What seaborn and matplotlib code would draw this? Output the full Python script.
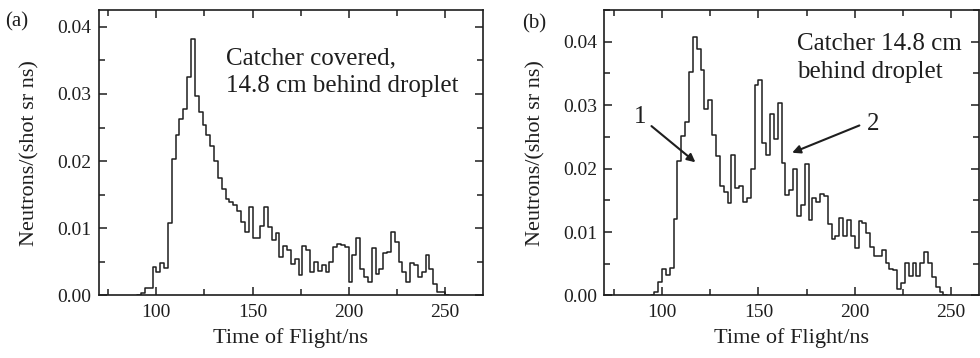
import numpy as np
import pandas as pd
import matplotlib
matplotlib.use("Agg")
import matplotlib.pyplot as plt
from matplotlib.ticker import MultipleLocator, FormatStrFormatter
import seaborn as sns

# neutron time-of-flight spectra, 2 ns bins
bin_width = 2
start_a = 90   # left edge of first bin, panel (a)
flux_a = [0, 0.00035, 0.0011, 0.0011, 0.0043, 0.0035, 0.0048, 0.0041, 0.0108, 0.0203,
          0.0239, 0.0263, 0.0278, 0.0325, 0.0382, 0.0297, 0.0273, 0.0254, 0.0239, 0.0223,
          0.0200, 0.0175, 0.0158, 0.0143, 0.0139, 0.0134, 0.0126, 0.0109, 0.0094, 0.0131,
          0.0086, 0.0086, 0.0103, 0.0131, 0.0102, 0.0083, 0.0093, 0.0057, 0.0073, 0.0067,
          0.0047, 0.0055, 0.0030, 0.0074, 0.0067, 0.0035, 0.0050, 0.0037, 0.0045, 0.0035,
          0.0050, 0.0072, 0.0077, 0.0075, 0.0072, 0.0020, 0.0060, 0.0086, 0.0040, 0.0027,
          0.0020, 0.0070, 0.0032, 0.0040, 0.0063, 0.0064, 0.0094, 0.0080, 0.0050, 0.0035,
          0.0020, 0.0048, 0.0046, 0.0028, 0.0035, 0.0061, 0.0040, 0.0017, 0.0005, 0.0005, 0]

start_b = 94
flux_b = [0, 0.0006, 0.0021, 0.0041, 0.0032, 0.0043, 0.0121, 0.0212, 0.0252, 0.0273,
          0.0352, 0.0408, 0.0388, 0.0356, 0.0294, 0.0308, 0.0253, 0.0220, 0.0173, 0.0163,
          0.0145, 0.0222, 0.0170, 0.0172, 0.0147, 0.0154, 0.0200, 0.0331, 0.0339, 0.0241,
          0.0221, 0.0286, 0.0247, 0.0304, 0.0209, 0.0159, 0.0167, 0.0200, 0.0125, 0.0143,
          0.0208, 0.0119, 0.0154, 0.0147, 0.0160, 0.0157, 0.0112, 0.0089, 0.0094, 0.0122,
          0.0094, 0.0119, 0.0094, 0.0075, 0.0117, 0.0115, 0.0099, 0.0076, 0.0063, 0.0063,
          0.0071, 0.0052, 0.0041, 0.0040, 0.0010, 0.0020, 0.0051, 0.0030, 0.0051, 0.0030,
          0.0052, 0.0068, 0.0051, 0.0029, 0.0013, 0.0005, 0]

text_a = "Catcher covered,\n14.8 cm behind droplet"
text_b = "Catcher 14.8 cm\nbehind droplet"
xlabel = "Time of Flight/ns"
ylabel = "Neutrons/(shot sr ns)"

sns.set_style("ticks")
plt.rcParams['font.family'] = ['Liberation Serif', 'DejaVu Serif']
ink = '#1e1e1e'

fig = plt.figure(figsize=(9.8, 3.58), dpi=100)
ax1 = fig.add_axes([0.1007, 0.1746, 0.3924, 0.7975])
ax2 = fig.add_axes([0.6166, 0.1746, 0.3824, 0.7975])


def draw(ax, start, flux, xlim, ylim):
    edges = [start + bin_width * i for i in range(len(flux) + 1)]
    df = pd.DataFrame({'tof': [e + bin_width / 2 for e in edges[:-1]], 'flux': flux})
    sns.histplot(data=df, x='tof', weights='flux', bins=edges, element='step',
                 fill=False, color=ink, linewidth=1.1, ax=ax)
    ax.set_xlim(*xlim)
    ax.set_ylim(*ylim)
    ax.xaxis.set_major_locator(MultipleLocator(50))
    ax.xaxis.set_minor_locator(MultipleLocator(25))
    ax.yaxis.set_major_locator(MultipleLocator(0.01))
    ax.yaxis.set_minor_locator(MultipleLocator(0.005))
    ax.yaxis.set_major_formatter(FormatStrFormatter('%.2f'))
    ax.tick_params(which='both', direction='in', top=True, right=True,
                   width=1.1, color=ink, labelsize=14, labelcolor=ink)
    ax.tick_params(axis='x', which='major', length=6, pad=6)
    ax.tick_params(axis='y', which='major', length=6, pad=5)
    ax.tick_params(which='minor', length=4)
    for s in ax.spines.values():
        s.set_linewidth(1.2)
        s.set_color(ink)
    ax.set_xlabel(xlabel, fontsize=16, color=ink, labelpad=5)
    ax.set_ylabel(ylabel, fontsize=16, color=ink, labelpad=13)


draw(ax1, start_a, flux_a, (70, 270), (0, 0.0425))
draw(ax2, start_b, flux_b, (70, 264.5), (0, 0.045))

ax1.text(136.4, 0.0369, text_a, fontsize=18, color=ink, ha='left', va='top', linespacing=1.3)
ax2.text(170.0, 0.0413, text_b, fontsize=18, color=ink, ha='left', va='top', linespacing=1.35)

arrow = dict(arrowstyle='-|>', color=ink, lw=1.5, mutation_scale=12, shrinkA=0, shrinkB=0)
ax2.annotate('', xy=(117.3, 0.0210), xytext=(94.5, 0.0267), arrowprops=arrow)
ax2.annotate('', xy=(167.5, 0.0225), xytext=(202.4, 0.0268), arrowprops=arrow)
ax2.text(88.7, 0.0281, '1', fontsize=18, color=ink, ha='center', va='center')
ax2.text(209.6, 0.0271, '2', fontsize=18, color=ink, ha='center', va='center')

fig.text(0.017, 0.94, '(a)', fontsize=15, color=ink, ha='center', va='center')
fig.text(0.545, 0.934, '(b)', fontsize=15, color=ink, ha='center', va='center')

fig.savefig('out.png', dpi=100)
